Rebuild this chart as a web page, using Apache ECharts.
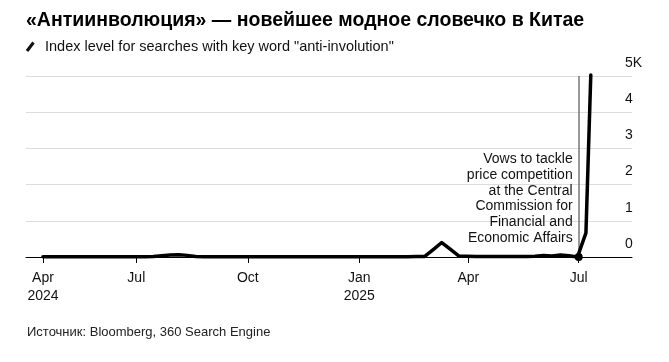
<!DOCTYPE html>
<html>
<head>
<meta charset="utf-8">
<script src="https://cdn.jsdelivr.net/npm/echarts@6/dist/echarts.min.js"></script>
<style>
html,body{margin:0;padding:0;background:#fff;}
#chart{width:669px;height:362px;}
</style>
</head>
<body>
<div id="chart"></div>
<script>
const titleText = '«Антиинволюция» — новейшее модное словечко в Китае';
const subtitleText = 'Index level for searches with key word "anti-involution"';
const sourceText = 'Источник: Bloomberg, 360 Search Engine';
const annotationText = 'Vows to tackle\nprice competition\nat the Central\nCommission for\nFinancial and\nEconomic Affairs';
const annotationDate = '2025-07-01';

const dates = [
  '2024-04-15','2024-04-22','2024-04-29','2024-05-06','2024-05-13','2024-05-20','2024-05-27',
  '2024-06-03','2024-06-10','2024-06-17','2024-06-24','2024-07-01','2024-07-08','2024-07-15',
  '2024-07-22','2024-07-29','2024-08-05','2024-08-12','2024-08-19','2024-08-26','2024-09-02',
  '2024-09-09','2024-09-16','2024-09-23','2024-09-30','2024-10-07','2024-10-14','2024-10-21',
  '2024-10-28','2024-11-04','2024-11-11','2024-11-18','2024-11-25','2024-12-02','2024-12-09',
  '2024-12-16','2024-12-23','2024-12-30','2025-01-06','2025-01-13','2025-01-20','2025-01-27',
  '2025-02-03','2025-02-10','2025-02-17','2025-02-24','2025-03-03','2025-03-10','2025-03-17',
  '2025-03-24','2025-03-31','2025-04-07','2025-04-14','2025-04-21','2025-04-28','2025-05-05',
  '2025-05-12','2025-05-19','2025-05-26','2025-06-02','2025-06-09','2025-06-16','2025-06-23',
  '2025-06-30','2025-07-07','2025-07-11'
];
const values = [
  10,10,10,10,10,10,10,
  10,10,10,10,10,10,15,
  35,55,65,45,15,10,10,
  10,10,10,10,10,10,10,
  10,10,10,10,10,10,10,
  10,10,10,10,10,10,10,
  10,10,12,15,205,400,215,
  30,20,15,12,12,12,12,
  12,15,20,40,25,55,35,
  0,665,5030
];

const tickDates = ['2024-04-15','2024-07-01','2024-10-01','2025-01-01','2025-04-01','2025-07-01'];
const tickLabels = ['Apr\n2024','Jul','Oct','Jan\n2025','Apr','Jul'];
const yTickValues = [0,1000,2000,3000,4000,5000];
const yTickLabels = ['0','1','2','3','4','5K'];

const ts = d => new Date(d + 'T00:00:00Z').getTime();
const tickTs = tickDates.map(ts);
const seriesData = dates.map((d,i)=>[ts(d), values[i]]);

const chart = echarts.init(document.getElementById('chart'));
const font = '"Liberation Sans", Arial, sans-serif';

chart.setOption({
  animation: false,
  backgroundColor: '#fff',
  textStyle: {fontFamily: font},
  title: [
    {text: titleText, left: 26, top: 11, padding: 0, textStyle:{fontSize:19.5, fontWeight:'bold', color:'#000', fontFamily:font}},
    {text: subtitleText, left: 45, top: 39, padding: 0, textStyle:{fontSize:14.5, fontWeight:'normal', color:'#111', fontFamily:font}},
    {text: sourceText, left: 27, top: 326, padding: 0, textStyle:{fontSize:13, fontWeight:'normal', color:'#222', fontFamily:font}}
  ],
  grid: {left: 26, right: 37, top: 76, bottom: 105, containLabel: false},
  xAxis: {
    type: 'value',
    min: ts('2024-04-01'),
    max: ts('2025-08-14'),
    axisLine: {show:true, onZero:false, lineStyle:{color:'#000', width:1}},
    axisTick: {show:true, customValues: tickTs, length:6, lineStyle:{color:'#000', width:1}},
    axisLabel: {
      customValues: tickTs,
      margin: 12,
      fontSize: 14, lineHeight: 18, color: '#111', fontFamily: font,
      formatter: function(v){ const i = tickTs.indexOf(+v); return i >= 0 ? tickLabels[i] : ''; }
    },
    splitLine: {show:false}
  },
  yAxis: {
    type: 'value',
    position: 'right',
    min: 0, max: 5000, interval: 1000,
    axisLine: {show:false},
    axisTick: {show:false},
    axisLabel: {
      margin: -7, align: 'left', verticalAlign: 'bottom',
      padding: [0,0,6,0], lineHeight: 14,
      fontSize: 14, color: '#111', fontFamily: font,
      formatter: function(v){ const i = yTickValues.indexOf(v); return i >= 0 ? yTickLabels[i] : ''; }
    },
    splitLine: {show:true, lineStyle:{color:'#dcdcdc', width:1.2}}
  },
  series: [{
    type: 'line',
    data: seriesData,
    showSymbol: false,
    symbol: 'none',
    clip: false,
    lineStyle: {color:'#000', width:3.5, join:'round', cap:'round'},
    z: 5,
    markLine: {
      silent: true,
      symbol: ['none','none'],
      label: {show:false},
      lineStyle: {color:'#777', width:1.5, type:'solid'},
      data: [[{coord:[ts(annotationDate), 0]}, {coord:[ts(annotationDate), 5000]}]],
      z: 3
    },
    markPoint: {
      silent: true,
      symbol: 'circle',
      symbolSize: 8,
      itemStyle: {color:'#000'},
      label: {show:false},
      data: [{coord:[ts(annotationDate), 0]}]
    }
  }]
});

const p0 = chart.convertToPixel({gridIndex:0}, [ts(annotationDate), 0]);
chart.setOption({
  graphic: [
    {
      type: 'text',
      x: p0[0] - 6,
      y: p0[1] - 11,
      style: {
        text: annotationText,
        align: 'right',
        verticalAlign: 'bottom',
        font: '14px ' + font,
        lineHeight: 15.8,
        fill: '#111'
      },
      z: 10
    },
    {
      type: 'line',
      shape: {x1: 27, y1: 51, x2: 33.5, y2: 42.5},
      style: {stroke:'#111', lineWidth: 3, lineCap:'butt'}
    }
  ]
});
</script>
</body>
</html>
